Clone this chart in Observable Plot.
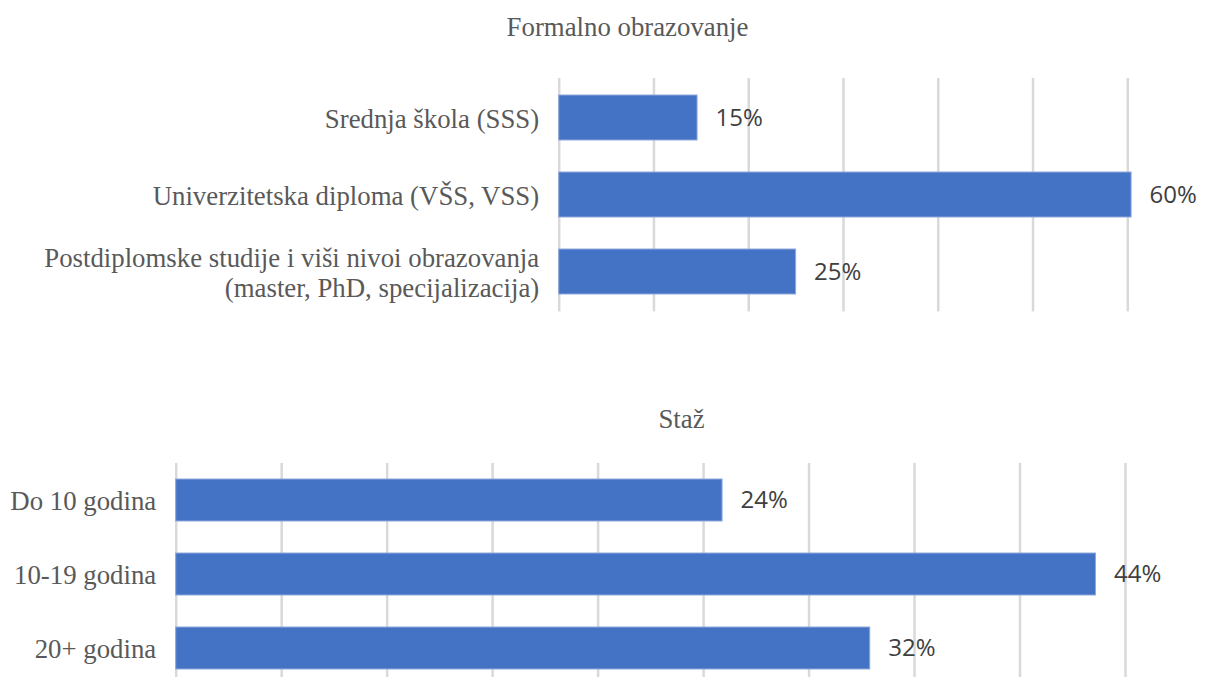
<!DOCTYPE html>
<html><head><meta charset="utf-8">
<script src="https://cdn.jsdelivr.net/npm/d3@7"></script>
<script src="https://cdn.jsdelivr.net/npm/@observablehq/plot@0.6"></script>
<style>
html,body{margin:0;padding:0;background:#fff;overflow:hidden}
#wrap{position:relative;width:1220px;height:677px;overflow:hidden;background:#fff}
.title{position:absolute;font-family:'Liberation Serif','Times New Roman',serif;font-size:26.8px;color:#595959;white-space:nowrap;transform:translateX(-50%);line-height:1}
.chart{position:absolute;left:0}
</style></head><body><div id="wrap"></div>
<script>
// ---- Data ----
const eduTitle = "Formalno obrazovanje";
const eduCategories = [
  "Srednja škola (SSS)",
  "Univerzitetska diploma (VŠS, VSS)",
  "Postdiplomske studije i viši nivoi obrazovanja\n(master, PhD, specijalizacija)"
];
const eduValues = [14.6, 60.4, 25.0];
const eduLabels = ["15%", "60%", "25%"];
const eduTicks = [0, 10, 20, 30, 40, 50, 60];

const stazTitle = "Staž";
const stazCategories = ["Do 10 godina", "10-19 godina", "20+ godina"];
const stazValues = [25.9, 43.6, 32.9];
const stazLabels = ["24%", "44%", "32%"];
const stazTicks = [0, 5, 10, 15, 20, 25, 30, 35, 40, 45];

// ---- Rendering ----
const wrap = document.getElementById("wrap");
const SERIF = "'Liberation Serif','Times New Roman',serif";

function addTitle(text, cx, top) {
  const d = document.createElement("div");
  d.className = "title";
  d.textContent = text;
  d.style.left = cx + "px";
  d.style.top = top + "px";
  wrap.appendChild(d);
}

function makeChart(cfg) {
  const data = cfg.categories.map((c, i) => ({cat: c, value: cfg.values[i], label: cfg.labels[i]}));
  const chart = Plot.plot({
    width: 1220,
    height: cfg.height,
    marginLeft: cfg.marginLeft,
    marginRight: cfg.marginRight,
    marginTop: cfg.marginTop,
    marginBottom: cfg.marginBottom,
    style: {fontFamily: SERIF, fontSize: "26.8px", color: "#595959", background: "transparent", overflow: "visible"},
    x: {domain: [cfg.ticks[0], cfg.ticks[cfg.ticks.length - 1]], axis: null},
    y: {domain: cfg.categories, paddingInner: cfg.pad, paddingOuter: cfg.pad / 2, axis: null},
    marks: [
      Plot.gridX(cfg.ticks, {stroke: "#d9d9d9", strokeOpacity: 1, strokeWidth: 2.5}),
      Plot.barX(data, {x: "value", y: "cat", fill: "#4472C4", stroke: "#8faadc", strokeWidth: 1}),
      Plot.text(data, {x: "value", y: "cat", text: "label", textAnchor: "start", dx: 18,
        fill: "#404040", fontFamily: "'Open Sans', sans-serif", fontSize: 24}),
      Plot.axisY({tickSize: 0, tickPadding: 20, fontSize: 26.8, fontFamily: SERIF,
        fill: "#595959", lineHeight: 1.12, label: null})
    ]
  });
  chart.classList.add("chart");
  chart.style.top = cfg.top + "px";
  wrap.appendChild(chart);
}

addTitle(eduTitle, 627.5, 14);
makeChart({
  categories: eduCategories, values: eduValues, labels: eduLabels, ticks: eduTicks,
  top: 0, height: 330, marginTop: 78, marginBottom: 18.6,
  marginLeft: 558.7, marginRight: 92.7, pad: 0.418
});

addTitle(stazTitle, 681.5, 406);
makeChart({
  categories: stazCategories, values: stazValues, labels: stazLabels, ticks: stazTicks,
  top: 400, height: 290, marginTop: 63, marginBottom: 5,
  marginLeft: 175.7, marginRight: 95, pad: 0.428
});
</script>
</body></html>
